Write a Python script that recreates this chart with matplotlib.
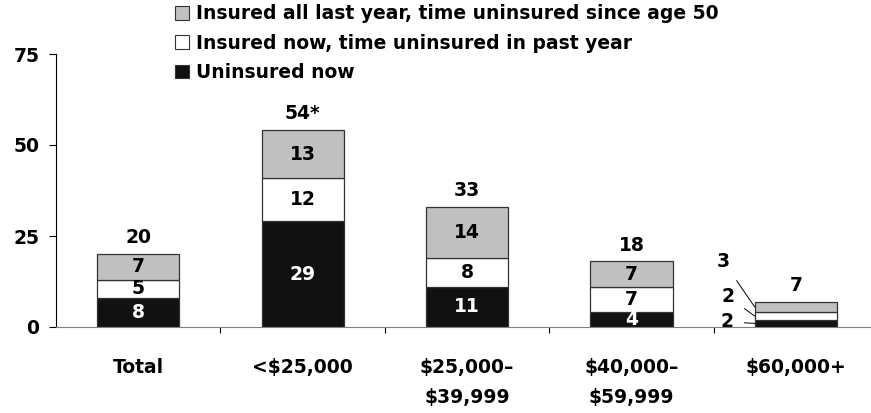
import numpy as np
import matplotlib.pyplot as plt
from matplotlib.patches import Patch

# data
categories = ['Total', '<$25,000', '$25,000–\n$39,999', '$40,000–\n$59,999', '$60,000+']
uninsured_now = [8, 29, 11, 4, 2]
insured_now_past_year = [5, 12, 8, 7, 2]
insured_all_year_since50 = [7, 13, 14, 7, 3]
totals = ['20', '54*', '33', '18', '7']
series_names = ['Uninsured now',
                'Insured now, time uninsured in past year',
                'Insured all last year, time uninsured since age 50']

colors = ['#111111', '#ffffff', '#c0c0c0']
text_colors = ['white', 'black', 'black']
edge = '#333333'
fs = 13.5

plt.rcParams['font.family'] = ['DejaVu Sans']
plt.rcParams['font.weight'] = 'bold'

fig = plt.figure(figsize=(8.71, 4.13), dpi=100)
ax = fig.add_axes([56 / 871, 86 / 413, 822 / 871, 273 / 413])

x = np.arange(len(categories))
width = 0.5
series = [uninsured_now, insured_now_past_year, insured_all_year_since50]
bottom = np.zeros(len(categories))
for vals, c, tc, name in zip(series, colors, text_colors, series_names):
    vals = np.array(vals, dtype=float)
    ax.bar(x, vals, width, bottom=bottom, color=c, edgecolor=edge, linewidth=0.9, label=name)
    for i in range(len(x) - 1):
        ax.text(x[i], bottom[i] + vals[i] / 2, '%d' % vals[i], ha='center', va='center',
                color=tc, fontsize=fs, fontweight='bold')
    bottom = bottom + vals

# small bar gets callouts
last = len(x) - 1
left_edge = x[last] - width / 2
callout_pos = [(3.58, 1.4), (3.59, 8.3), (3.56, 18.0)]
b = 0
for vals, (tx, ty) in zip(series, callout_pos):
    v = vals[last]
    ax.annotate('%d' % v, xy=(left_edge, b + v / 2), xytext=(tx, ty),
                ha='center', va='center', fontsize=fs, fontweight='bold',
                arrowprops=dict(arrowstyle='-', color='black', lw=0.7, shrinkA=6, shrinkB=0))
    b += v

for i in range(len(x)):
    ax.annotate(totals[i], xy=(x[i], bottom[i]), xytext=(0, 5), textcoords='offset points',
                ha='center', va='bottom', fontsize=fs, fontweight='bold')

ax.set_xlim(-0.5, len(x) - 0.5)
ax.set_ylim(0, 75)
ax.set_yticks([0, 25, 50, 75])
ax.set_xticks(x)
ax.set_xticklabels(categories, fontsize=fs, fontweight='bold', linespacing=1.75, va='top')
ax.set_xticks(np.arange(0.5, len(x) - 1, 1), minor=True)
ax.tick_params(axis='x', which='major', length=0, pad=22)
ax.tick_params(axis='x', which='minor', length=4, direction='out', color='black', width=0.8)
ax.tick_params(axis='y', length=5, direction='out', pad=7, labelsize=fs, width=0.8)
for lab in ax.get_yticklabels():
    lab.set_fontweight('bold')

ax.spines['top'].set_visible(False)
ax.spines['right'].set_visible(False)
ax.spines['bottom'].set_color('#808080')
ax.spines['left'].set_color('black')
ax.spines['left'].set_linewidth(0.8)

handles = [Patch(facecolor=c, edgecolor=edge, linewidth=0.8) for c in colors][::-1]
leg = fig.legend(handles, series_names[::-1], loc='upper left', bbox_to_anchor=(158 / 871, 1.03),
                 frameon=False, prop={'size': fs, 'weight': 'bold'},
                 handlelength=0.75, handleheight=0.75, handletextpad=0.4, labelspacing=0.55)

fig.savefig('out.png', dpi=100)
